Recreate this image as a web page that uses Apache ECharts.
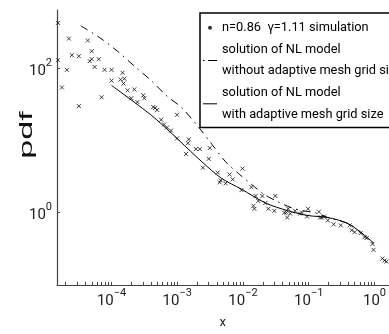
<!DOCTYPE html>
<html>
<head>
<meta charset="utf-8">
<script src="https://cdn.jsdelivr.net/npm/echarts@6/dist/echarts.min.js"></script>
<style>
html, body { margin: 0; padding: 0; background: #fff; }
#chart { width: 389px; height: 334px; }
</style>
</head>
<body>
<div id="chart"></div>
<script>
// simulation points
var simX = [1.53e-5, 2.24e-5, 4.35e-5, 1.53e-5, 2.49e-5, 3.18e-5, 4.99e-5, 4.99e-5, 4.66e-5, 6.37e-5,
  5.53e-5, 2.09e-5, 7.83e-5, 1.00e-4, 1.47e-4, 1.57e-4, 1.37e-4, 1.00e-4, 1.52e-4, 1.76e-5,
  1.75e-4, 2.22e-4, 7.06e-5, 3.18e-5, 2.00e-4, 2.47e-4, 3.04e-4, 3.15e-4, 4.31e-4, 4.61e-4,
  4.94e-4, 5.69e-4, 6.31e-4, 7.00e-4, 8.05e-4, 9.90e-4, 9.90e-4, 1.50e-3, 1.45e-3, 1.92e-3,
  2.20e-3, 1.36e-3, 3.12e-3, 3.01e-3, 2.45e-3, 4.12e-3, 4.57e-3, 4.42e-3, 5.44e-3, 6.25e-3,
  6.95e-3, 9.82e-3, 9.49e-3, 1.34e-2, 1.44e-2, 1.49e-2, 1.55e-2, 1.71e-2, 1.97e-2, 2.19e-2,
  2.43e-2, 3.10e-2, 2.99e-2, 4.23e-2, 4.54e-2, 4.86e-2, 4.70e-2, 5.21e-2, 6.20e-2, 7.38e-2,
  7.91e-2, 9.75e-2, 9.41e-2, 0.143, 0.148, 0.158, 0.170, 0.195, 0.240, 0.307,
  0.420, 0.450, 0.499, 0.615, 0.706, 0.757, 0.933, 0.966, 1.32, 1.42, 1.52];
var simY = [419, 254, 239, 128, 150, 145, 170, 132, 124, 132,
  103, 94, 94, 94, 85.6, 71, 68.9, 66.7, 60.8, 53.7,
  48.9, 50.4, 39.3, 29.7, 38.1, 33.7, 41.8, 38.1, 28.8, 27.9,
  26.2, 19.2, 16.5, 15.0, 13.6, 22.5, 10.6, 10.3, 9.1, 7.56,
  7.56, 6.47, 7.80, 5.54, 4.18, 3.58, 2.79, 2.62, 2.54, 3.37,
  2.88, 4.06, 2.05, 2.25, 1.24, 1.13, 1.70, 1.45, 1.70, 1.36,
  1.13, 1.70, 1.06, 1.0, 1.0, 1.13, 0.856, 0.969, 1.06, 0.969,
  1.0, 1.13, 0.883, 1.03, 0.856, 0.856, 0.883, 0.780, 0.689, 0.667,
  0.667, 0.571, 0.537, 0.520, 0.459, 0.445, 0.370, 0.306, 0.232, 0.218, 0.211];

// NL model without adaptive mesh (dash-dot)
var plainX = [3.40e-5, 6.59e-5, 1.23e-4, 2.22e-4, 4.02e-4, 6.76e-4, 1.18e-3, 2.13e-3, 3.35e-3, 5.44e-3,
  8.55e-3, 1.34e-2, 2.04e-2, 3.21e-2, 5.40e-2, 8.18e-2, 0.124, 0.195, 0.391, 0.615, 0.966];
var plainY = [381, 262, 170, 106, 66.7, 41.8, 27.9, 15.0, 8.83, 5.04,
  3.47, 2.47, 1.81, 1.45, 1.17, 1.06, 1.0, 0.856, 0.710, 0.537, 0.381];

// NL model with adaptive mesh (solid)
var adaptX = [1.0e-4, 4.46e-4, 2.37e-3, 4.73e-3, 9.49e-3, 2.19e-2, 4.86e-2, 9.75e-2, 0.195, 0.391, 0.615, 0.966];
var adaptY = [57.1, 20.5, 5.04, 2.97, 2.11, 1.36, 1.06, 0.911, 0.856, 0.710, 0.537, 0.381];

var seriesNames = [
  'n=0.86  \u03b3=1.11 simulation',
  'solution of NL model\nwithout adaptive mesh grid size',
  'solution of NL model\nwith adaptive mesh grid size'
];
var xMajorTicks = [1e-4, 1e-3, 1e-2, 1e-1, 1];
var yMajorTicks = [1, 100];

var xMinorTicks = [];
xMajorTicks.concat([1e-5]).forEach(function (d) {
  for (var m = 2; m <= 9; m++) xMinorTicks.push(m * d);
});

function pairs(xs, ys) {
  return xs.map(function (x, i) { return [x, ys[i]]; });
}

var font = "Roboto, 'Liberation Sans', sans-serif";

function powLabel(v) {
  var e = Math.round(Math.log10(v));
  return '{b|10}{e|' + (e < 0 ? '\u2212' + (-e) : e) + '}';
}
var powRich = {
  b: { fontSize: 15, fontFamily: font, color: '#222', verticalAlign: 'bottom', padding: [6, 0, 0, 0] },
  e: { fontSize: 11, fontFamily: font, color: '#222', verticalAlign: 'top' }
};

var chart = echarts.init(document.getElementById('chart'));
var option = {
  animation: false,
  grid: { left: 57, top: 10, width: 334, height: 281 },
  legend: {
    left: 200,
    top: 13,
    orient: 'vertical',
    itemGap: 0,
    itemWidth: 14,
    itemHeight: 4,
    padding: [4, 60, 2, 3],
    borderColor: '#000',
    borderWidth: 1.5,
    selectedMode: false,
    textStyle: { fontFamily: font, fontSize: 12.8, lineHeight: 21.7, color: '#000' },
    data: [
      { name: seriesNames[0], icon: 'circle', itemStyle: { color: '#000', borderWidth: 0 } },
      { name: seriesNames[1], icon: 'path://M0 0H1.5V1H0Z M5 0H14V1H5Z', itemStyle: { color: '#000', borderWidth: 0 } },
      { name: seriesNames[2], icon: 'path://M0 0H14V1H0Z', itemStyle: { color: '#000', borderWidth: 0 } }
    ]
  },
  xAxis: {
    type: 'log',
    min: 1.479e-5,
    max: 1.63,
    name: 'x',
    nameLocation: 'middle',
    nameGap: 31,
    nameTextStyle: { fontFamily: font, fontSize: 13, color: '#222' },
    axisLine: { lineStyle: { color: '#444', width: 1.2 } },
    axisTick: { inside: true, length: 3, customValues: xMinorTicks.concat(xMajorTicks), lineStyle: { color: '#444' } },
    axisLabel: { customValues: xMajorTicks, margin: 3, formatter: powLabel, rich: powRich },
    splitLine: { show: false }
  },
  yAxis: {
    type: 'log',
    min: 0.1,
    max: 631,
    axisLine: { show: true, lineStyle: { color: '#444', width: 1.2 } },
    axisTick: { show: true, inside: true, length: 3, customValues: yMajorTicks, lineStyle: { color: '#444' } },
    axisLabel: { customValues: yMajorTicks, margin: 5, formatter: powLabel, rich: powRich },
    splitLine: { show: false }
  },
  graphic: [{
    type: 'text',
    x: 27,
    y: 135,
    rotation: Math.PI / 2,
    scaleX: 1.8,
    style: { text: 'pdf', fontSize: 19, fontFamily: 'Liberation Sans', fill: '#111', align: 'center', verticalAlign: 'middle' }
  }],
  series: [
    {
      name: seriesNames[0],
      type: 'scatter',
      symbol: 'path://M0 0L4 4M4 0L0 4',
      symbolSize: 4,
      itemStyle: { color: 'none', borderColor: '#111', borderWidth: 1 },
      data: pairs(simX, simY)
    },
    {
      name: seriesNames[1],
      type: 'line',
      symbol: 'none',
      smooth: 0.3,
      itemStyle: { color: '#000' },
      lineStyle: { color: '#000', width: 1, type: [8, 5, 1.5, 5] },
      data: pairs(plainX, plainY)
    },
    {
      name: seriesNames[2],
      type: 'line',
      symbol: 'none',
      smooth: 0.3,
      itemStyle: { color: '#000' },
      lineStyle: { color: '#000', width: 1 },
      data: pairs(adaptX, adaptY)
    }
  ]
};
chart.setOption(option);
window.addEventListener('resize', chart.resize);
</script>
</body>
</html>
